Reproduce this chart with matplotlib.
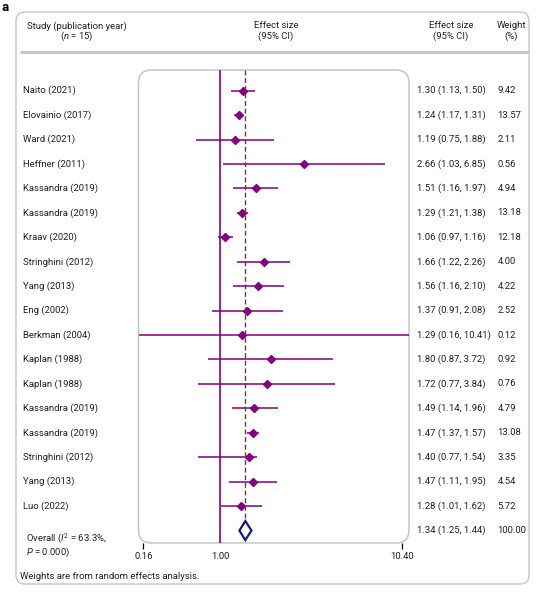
import numpy as np
import matplotlib
matplotlib.use("Agg")
import matplotlib.pyplot as plt
from matplotlib.patches import FancyBboxPatch, Polygon
from matplotlib import transforms

plt.rcParams.update({"font.family": "Roboto",
                     "font.size": 6.8,
                     "mathtext.fontset": "custom",
                     "mathtext.rm": "Roboto",
                     "mathtext.it": "Roboto:italic",
                     "text.color": "#231f20"})

# data
studies = ["Naito (2021)", "Elovainio (2017)", "Ward (2021)", "Heffner (2011)",
           "Kassandra (2019)", "Kassandra (2019)", "Kraav (2020)", "Stringhini (2012)",
           "Yang (2013)", "Eng (2002)", "Berkman (2004)", "Kaplan (1988)",
           "Kaplan (1988)", "Kassandra (2019)", "Kassandra (2019)", "Stringhini (2012)",
           "Yang (2013)", "Luo (2022)"]
es = [1.30, 1.24, 1.19, 2.66, 1.51, 1.29, 1.06, 1.66, 1.56, 1.37, 1.29, 1.80,
      1.72, 1.49, 1.47, 1.40, 1.47, 1.28]
ci_lo = [1.13, 1.17, 0.75, 1.03, 1.16, 1.21, 0.97, 1.22, 1.16, 0.91, 0.16, 0.87,
         0.77, 1.14, 1.37, 0.77, 1.11, 1.01]
ci_hi = [1.50, 1.31, 1.88, 6.85, 1.97, 1.38, 1.16, 2.26, 2.10, 2.08, 10.41, 3.72,
         3.84, 1.96, 1.57, 1.54, 1.95, 1.62]
weights = [9.42, 13.57, 2.11, 0.56, 4.94, 13.18, 12.18, 4.00, 4.22, 2.52, 0.12,
           0.92, 0.76, 4.79, 13.08, 3.35, 4.54, 5.72]
overall = (1.34, 1.25, 1.44)
overall_weight = 100.00
tick_labels = ["0.16", "1.00", "10.40"]

purple = "#800080"
grey = "#c6c6c6"

fig = plt.figure(figsize=(5.51, 5.95), dpi=100)

# background axes in pixel units for frames and header
bg = fig.add_axes([0, 0, 1, 1])
bg.set_xlim(0, 551)
bg.set_ylim(595, 0)
bg.axis("off")

bg.add_patch(FancyBboxPatch((16, 12), 513, 572, boxstyle="round,pad=0,rounding_size=9",
                            fc="none", ec=grey, lw=1.0))
bg.plot([20, 529], [52, 52], color=grey, lw=2.3, solid_capstyle="butt")
bg.add_patch(FancyBboxPatch((138.5, 70), 270.5, 473, boxstyle="round,pad=0,rounding_size=13",
                            fc="none", ec=grey, lw=1.1))

bg.text(2, 1, "a", fontsize=9.5, fontweight="bold", color="black", va="top", ha="left")
bg.text(77, 26, "Study (publication year)", ha="center", va="center")
bg.text(77, 36.5, r"($\mathit{n}$ = 15)", ha="center", va="center")
bg.text(276, 26, "Effect size", ha="center", va="center")
bg.text(276, 36.5, "(95% CI)", ha="center", va="center")
bg.text(451, 26, "Effect size", ha="center", va="center")
bg.text(451, 36.5, "(95% CI)", ha="center", va="center")
bg.text(511, 26, "Weight", ha="center", va="center")
bg.text(511, 36.5, "(%)", ha="center", va="center")
bg.text(20.5, 576.5, "Weights are from random effects analysis.", ha="left", va="center")

# forest plot axes
ax = fig.add_axes([138.5 / 551, 1 - 543 / 595, 270.5 / 551, 473 / 595])
ax.patch.set_alpha(0)
ax.set_xscale("log")
ax.set_xlim(0.384, 9.09)
n = len(studies)
rows = np.arange(n)
row_top = -0.847
ax.set_ylim(18.51, row_top)
for s in ax.spines.values():
    s.set_visible(False)

ax.hlines(rows, ci_lo, ci_hi, color=purple, lw=1.1)
ax.plot(es, rows, "D", color=purple, ms=4.3, mec=purple)
ax.axvline(1.0, color=purple, lw=1.2)
ax.plot([overall[0], overall[0]], [row_top, n + 0.25], color="#8b2942",
        lw=1.0, ls=(0, (3.5, 2)))

h = 0.39
dia = Polygon([(overall[1], n), (overall[0], n - h), (overall[2], n), (overall[0], n + h)],
              closed=True, fc="white", ec="#1b1b6b", lw=1.6, joinstyle="miter", zorder=3)
ax.add_patch(dia)

ax.set_yticks([])
ax.set_xticks([0.406, 1.0, 8.37])
ax.set_xticks([], minor=True)
ax.set_xticklabels(tick_labels)
ax.tick_params(axis="x", which="major", length=4, width=0.9, color="black", pad=2.5,
               labelsize=6.8, labelcolor="#231f20")
ax.xaxis.get_major_ticks()[1].tick1line.set_visible(False)

# text columns: x in pixels, y in row units
tr = transforms.blended_transform_factory(bg.transData, ax.transData)
for i in range(n):
    ax.text(23, i, studies[i], transform=tr, ha="left", va="center", clip_on=False)
    ax.text(417, i, "%.2f (%.2f, %.2f)" % (es[i], ci_lo[i], ci_hi[i]), transform=tr,
            ha="left", va="center", clip_on=False)
    ax.text(497.5, i, "%.2f" % weights[i], transform=tr, ha="left", va="center", clip_on=False)

ax.text(417, n, "%.2f (%.2f, %.2f)" % overall, transform=tr, ha="left", va="center", clip_on=False)
ax.text(497.5, n, "%.2f" % overall_weight, transform=tr, ha="left", va="center", clip_on=False)
ax.text(26, n + 0.6, "Overall ($I^2$ = 63.3%,\n$P$ = 0.000)", transform=tr,
        ha="left", va="center", linespacing=1.0, clip_on=False)

fig.savefig("out.png", dpi=100)
